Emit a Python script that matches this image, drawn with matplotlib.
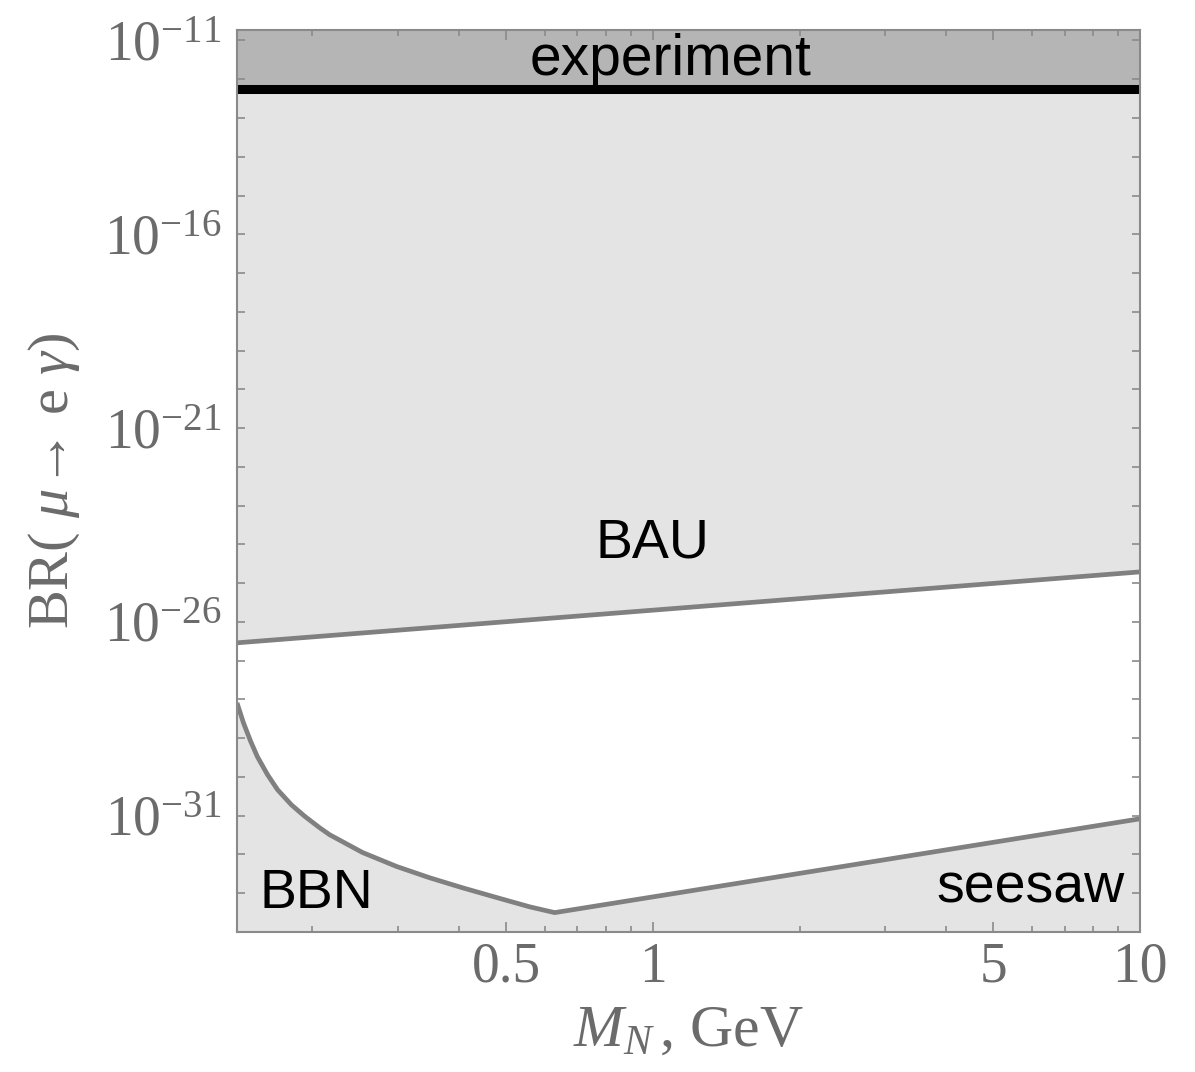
import numpy as np
import matplotlib
matplotlib.use("Agg")
import matplotlib.pyplot as plt
from matplotlib.ticker import FixedLocator, LogLocator, NullFormatter, FixedFormatter

# mu -> e gamma branching ratio vs heavy neutrino mass
exp_bound = 5.7e-13            # experimental upper limit

bau_mass = [0.14, 10.0]        # GeV
bau_log_br = [-26.54, -24.71]

# BBN bound (curved part) followed by the seesaw line
low_mass = [0.14, 0.1443, 0.1492, 0.1542, 0.1617, 0.1696, 0.1811, 0.1926, 0.2069,
            0.2169, 0.2535, 0.2978, 0.3479, 0.4067, 0.4775, 0.5582, 0.6285, 10.0]
low_log_br = [-28.09, -28.60, -29.07, -29.48, -29.94, -30.33, -30.72, -31.01, -31.31,
              -31.49, -31.95, -32.31, -32.60, -32.86, -33.11, -33.35, -33.50, -31.08]

bau_br = [10**v for v in bau_log_br]
low_br = [10**v for v in low_log_br]

x_ticks = [0.5, 1, 5, 10]
x_ticklabels = ["0.5", "1", "5", "10"]
y_ticks = [1e-31, 1e-26, 1e-21, 1e-16, 1e-11]
y_ticklabels = [r"$10^{-31}$", r"$10^{-26}$", r"$10^{-21}$", r"$10^{-16}$", r"$10^{-11}$"]

XMIN, XMAX = 0.14, 10.0
YMIN, YMAX = 1e-34, 10**-10.73

plt.rcParams["font.family"] = ["Liberation Serif", "DejaVu Serif"]
plt.rcParams["mathtext.fontset"] = "custom"
plt.rcParams["mathtext.rm"] = "Liberation Serif"
plt.rcParams["mathtext.it"] = "Liberation Serif:italic"

grey_txt = "#6b6b6b"
frame = "#8a8a8a"
light = "#e4e4e4"
dark = "#b5b5b5"
curve = "#808080"

fig = plt.figure(figsize=(11.95, 10.72), dpi=100)
ax = fig.add_axes([237/1195, 1 - 932/1072, 903/1195, 902/1072])
ax.set_xscale("log")
ax.set_yscale("log")
ax.set_xlim(XMIN, XMAX)
ax.set_ylim(YMIN, YMAX)
ax.set_facecolor(light)

# allowed region between BAU line and the lower bounds
ax.fill(np.concatenate([bau_mass, low_mass[::-1]]),
        np.concatenate([bau_br, low_br[::-1]]),
        color="white", lw=0, zorder=1)
ax.axhspan(exp_bound, YMAX, color=dark, lw=0, zorder=1)
ax.axhline(exp_bound, color="black", lw=6.5, zorder=3)

ax.plot(bau_mass, bau_br, color=curve, lw=3.4, zorder=3, solid_capstyle="butt")
ax.plot(low_mass, low_br, color=curve, lw=3.4, zorder=3, solid_capstyle="butt",
        solid_joinstyle="round")

sans = ["Liberation Sans", "DejaVu Sans"]
ax.text(0.4806, 0.950, "experiment", transform=ax.transAxes, ha="center", va="baseline",
        fontsize=41, family=sans, zorder=4)
ax.text(0.4596, 0.4157, "BAU", transform=ax.transAxes, ha="center", va="baseline",
        fontsize=40, family=sans, zorder=4)
ax.text(0.0875, 0.0266, "BBN", transform=ax.transAxes, ha="center", va="baseline",
        fontsize=40, family=sans, zorder=4)
ax.text(0.9834, 0.0322, "seesaw", transform=ax.transAxes, ha="right", va="baseline",
        fontsize=40, family=sans, zorder=4)

# ticks
ax.xaxis.set_major_locator(FixedLocator(x_ticks))
ax.xaxis.set_major_formatter(FixedFormatter(x_ticklabels))
ax.xaxis.set_minor_locator(LogLocator(base=10, subs=np.arange(1, 10), numticks=50))
ax.xaxis.set_minor_formatter(NullFormatter())
ax.yaxis.set_major_locator(FixedLocator(y_ticks))
ax.yaxis.set_major_formatter(FixedFormatter(y_ticklabels))
ax.yaxis.set_minor_locator(LogLocator(base=10, subs=(1.0,), numticks=50))
ax.yaxis.set_minor_formatter(NullFormatter())

ax.tick_params(which="both", direction="in", top=True, right=True, color=frame,
               width=1.2, labelcolor=grey_txt, labelsize=40)
ax.tick_params(axis="x", which="major", length=7.2, pad=7)
ax.tick_params(axis="x", which="minor", length=4.3)
ax.tick_params(axis="y", which="both", length=5.8, pad=11)

for s in ax.spines.values():
    s.set_color(frame)
    s.set_linewidth(1.5)
    s.set_zorder(5)

ax.set_xlabel(r"$M_N\,$, GeV", fontsize=43, color=grey_txt, labelpad=8)
ax.set_ylabel(r"BR( $\mu$→ e $\gamma$)", fontsize=42, color=grey_txt)
ax.yaxis.set_label_coords(-0.172, 0.5)

fig.savefig("out.png", dpi=100)
